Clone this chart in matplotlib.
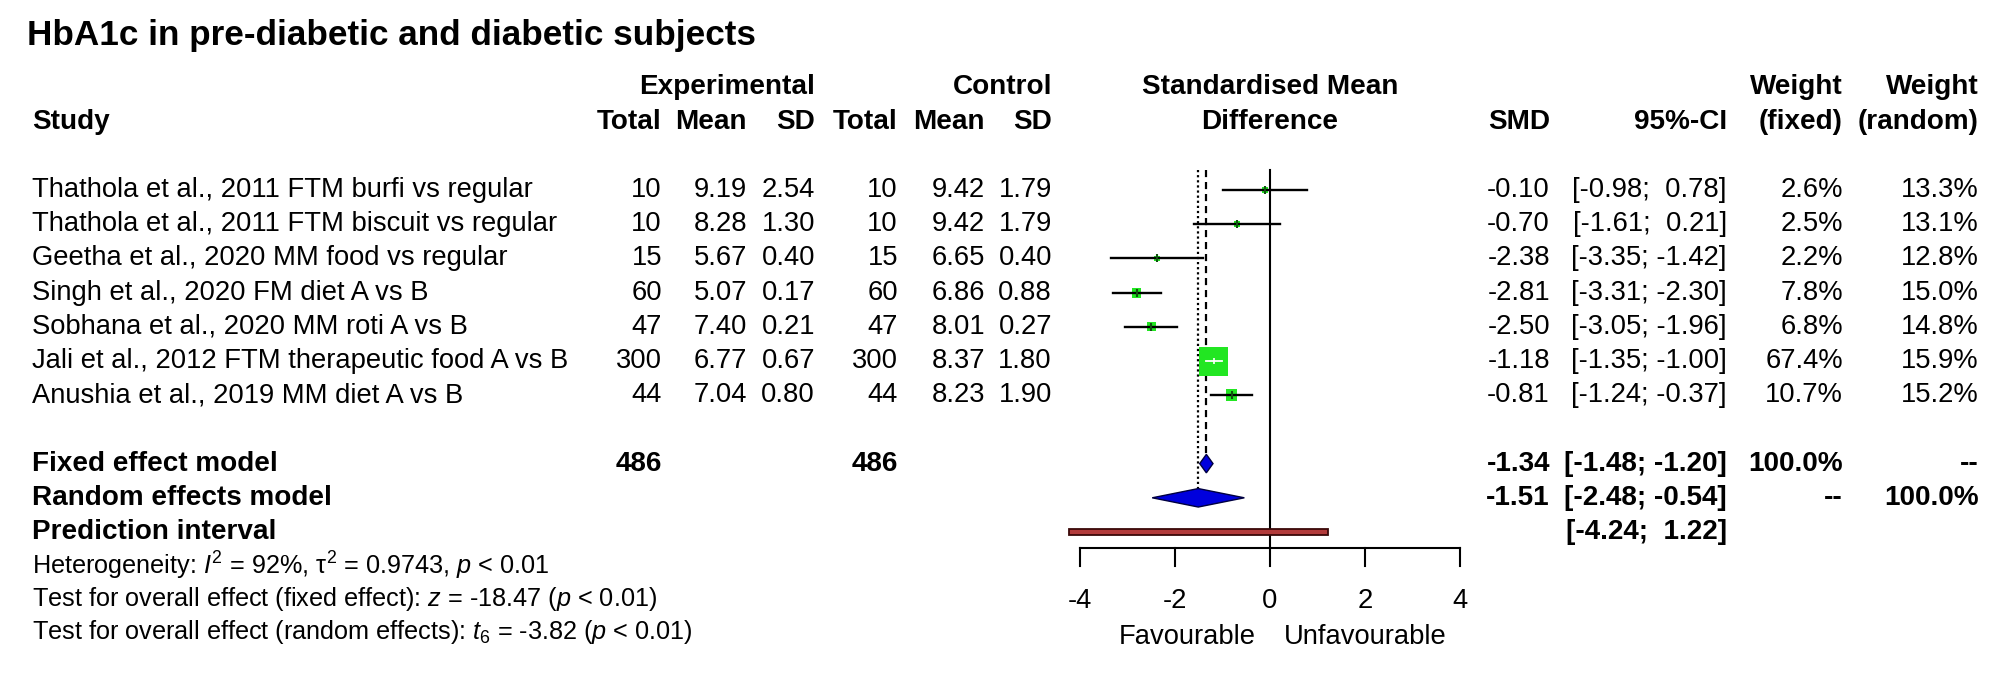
import matplotlib
matplotlib.use('Agg')
import matplotlib.pyplot as plt
from matplotlib.patches import Rectangle, Polygon
import numpy as np

plt.rcParams['font.family'] = ['Liberation Sans', 'DejaVu Sans']
plt.rcParams['mathtext.fontset'] = 'custom'
plt.rcParams['mathtext.rm'] = 'Liberation Sans'
plt.rcParams['mathtext.it'] = 'Liberation Sans:italic'
plt.rcParams['mathtext.bf'] = 'Liberation Sans:bold'

# ---------------- data ----------------
title = "HbA1c in pre-diabetic and diabetic subjects"
studies = [
    "Thathola et al., 2011 FTM burfi vs regular",
    "Thathola et al., 2011 FTM biscuit vs regular",
    "Geetha et al., 2020 MM food vs regular",
    "Singh et al., 2020 FM diet A vs B",
    "Sobhana et al., 2020 MM roti A vs B",
    "Jali et al., 2012 FTM therapeutic food A vs B",
    "Anushia et al., 2019 MM diet A vs B",
]
exp_total = [10, 10, 15, 60, 47, 300, 44]
exp_mean = [9.19, 8.28, 5.67, 5.07, 7.40, 6.77, 7.04]
exp_sd = [2.54, 1.30, 0.40, 0.17, 0.21, 0.67, 0.80]
ctl_total = [10, 10, 15, 60, 47, 300, 44]
ctl_mean = [9.42, 9.42, 6.65, 6.86, 8.01, 8.37, 8.23]
ctl_sd = [1.79, 1.79, 0.40, 0.88, 0.27, 1.80, 1.90]
smd = [-0.10, -0.70, -2.38, -2.81, -2.50, -1.18, -0.81]
ci_lo = [-0.98, -1.61, -3.35, -3.31, -3.05, -1.35, -1.24]
ci_hi = [0.78, 0.21, -1.42, -2.30, -1.96, -1.00, -0.37]
w_fixed = [2.6, 2.5, 2.2, 7.8, 6.8, 67.4, 10.7]
w_random = [13.3, 13.1, 12.8, 15.0, 14.8, 15.9, 15.2]
total_exp = 486
total_ctl = 486
fixed_est, fixed_lo, fixed_hi = -1.34, -1.48, -1.20
random_est, random_lo, random_hi = -1.51, -2.48, -0.54
pred_lo, pred_hi = -4.24, 1.22
xticks = [-4, -2, 0, 2, 4]
label_left = "Favourable"
label_right = "Unfavourable"
het_text = r"Heterogeneity: $I^2$ = 92%, τ$^2$ = 0.9743, $p$ < 0.01"
test_fixed_text = r"Test for overall effect (fixed effect): $z$ = -18.47 ($p$ < 0.01)"
test_random_text = r"Test for overall effect (random effects): $t_6$ = -3.82 ($p$ < 0.01)"

# ---------------- layout ----------------
W, H = 2008, 679
fig = plt.figure(figsize=(W / 100, H / 100), dpi=100)
row0_px, row_px = 190.0, 34.2
def prow(px):
    return (px - row0_px) / row_px
ytop, ybot = prow(0), prow(H)

ax_t = fig.add_axes([0, 0, 1, 1])
ax_t.set_xlim(0, W)
ax_t.set_ylim(ybot, ytop)
ax_t.axis('off')

x_m4, x_p4 = 1080, 1460
ax_f = fig.add_axes([x_m4 / W, 0, (x_p4 - x_m4) / W, 1])
ax_f.set_xlim(xticks[0], xticks[-1])
ax_f.set_ylim(ybot, ytop)
ax_f.axis('off')
ax_f.patch.set_alpha(0)
px_per_unit = (x_p4 - x_m4) / (xticks[-1] - xticks[0])

FS = 19.7
FSB = 20.1
FSH = 18.2
col_x = dict(et=662, em=747, es=815, ct=898, cm=985, cs=1052,
             smd=1550, ci=1727, wf=1843, wr=1979)
left_x = 32

def txt(x, y, s, ha='right', bold=False, size=None, **kw):
    if size is None:
        size = FSB if bold else FS
    ax_t.text(x, y, s, ha=ha, va='center', fontsize=size,
              fontweight='bold' if bold else 'normal', color='black', **kw)

# title
ax_t.text(27, prow(35), title, ha='left', va='center', fontsize=25.3, fontweight='bold')

# headers
h1, h2 = prow(87), prow(122)
txt(col_x['es'], h1, "Experimental", bold=True)
txt(col_x['cs'], h1, "Control", bold=True)
txt(1270, h1, "Standardised Mean", ha='center', bold=True)
txt(1270, h2, "Difference", ha='center', bold=True)
txt(col_x['wf'], h1, "Weight", bold=True)
txt(col_x['wr'], h1, "Weight", bold=True)
txt(left_x, h2, "Study", ha='left', bold=True)
for key, lab in [('et', 'Total'), ('em', 'Mean'), ('es', 'SD'),
                 ('ct', 'Total'), ('cm', 'Mean'), ('cs', 'SD'),
                 ('smd', 'SMD'), ('ci', '95%-CI'), ('wf', '(fixed)'), ('wr', '(random)')]:
    txt(col_x[key], h2, lab, bold=True)

def fmt_ci(lo, hi):
    a = f"{lo:.2f}"
    b = f"{hi:.2f}"
    if hi >= 0:
        b = " " + b
    return f"[{a}; {b}]"

# study rows
for i, name in enumerate(studies):
    y = i
    txt(left_x, y, name, ha='left')
    txt(col_x['et'], y, f"{exp_total[i]}")
    txt(col_x['em'], y, f"{exp_mean[i]:.2f}")
    txt(col_x['es'], y, f"{exp_sd[i]:.2f}")
    txt(col_x['ct'], y, f"{ctl_total[i]}")
    txt(col_x['cm'], y, f"{ctl_mean[i]:.2f}")
    txt(col_x['cs'], y, f"{ctl_sd[i]:.2f}")
    txt(col_x['smd'], y, f"{smd[i]:.2f}")
    txt(col_x['ci'], y, fmt_ci(ci_lo[i], ci_hi[i]))
    txt(col_x['wf'], y, f"{w_fixed[i]:.1f}%")
    txt(col_x['wr'], y, f"{w_random[i]:.1f}%")

# summary rows
yf, yr, yp = 8, 9, 10
txt(left_x, yf, "Fixed effect model", ha='left', bold=True)
txt(left_x, yr, "Random effects model", ha='left', bold=True)
txt(left_x, yp, "Prediction interval", ha='left', bold=True)
txt(col_x['et'], yf, f"{total_exp}", bold=True)
txt(col_x['ct'], yf, f"{total_ctl}", bold=True)
txt(col_x['smd'], yf, f"{fixed_est:.2f}", bold=True)
txt(col_x['ci'], yf, fmt_ci(fixed_lo, fixed_hi), bold=True)
txt(col_x['wf'], yf, "100.0%", bold=True)
txt(col_x['wr'], yf, "--", bold=True)
txt(col_x['smd'], yr, f"{random_est:.2f}", bold=True)
txt(col_x['ci'], yr, fmt_ci(random_lo, random_hi), bold=True)
txt(col_x['wf'], yr, "--", bold=True)
txt(col_x['wr'], yr, "100.0%", bold=True)
txt(col_x['ci'], yp, fmt_ci(pred_lo, pred_hi), bold=True)

# heterogeneity / tests
txt(left_x, prow(566), het_text, ha='left', size=FSH)
txt(left_x, prow(599), test_fixed_text, ha='left', size=FSH)
txt(left_x, prow(632), test_random_text, ha='left', size=FSH)

# ---------------- forest plot ----------------
line_top = prow(170)
axis_y = prow(548)
tick_bot = prow(566)
diam_h = 0.27

# reference lines
ax_f.plot([0, 0], [line_top, axis_y], color='black', lw=1.5, clip_on=False, zorder=1)
ax_f.plot([fixed_est, fixed_est], [line_top, yf - diam_h], color='black', lw=1.6,
          ls=(0, (3.2, 2.2)), clip_on=False, zorder=1)
ax_f.plot([random_est, random_est], [line_top, yr - diam_h], color='black', lw=1.6,
          ls=(0, (1, 1.3)), clip_on=False, zorder=1)

# squares and CIs
max_side_px = 29.0
wmax = max(w_fixed)
for i in range(len(studies)):
    side = max_side_px * np.sqrt(w_fixed[i] / wmax)
    wx = side / px_per_unit
    hy = side / row_px
    ax_f.add_patch(Rectangle((smd[i] - wx / 2, i - hy / 2), wx, hy,
                             facecolor='#22e622', edgecolor='none', zorder=2, clip_on=False))
    inside = (ci_lo[i] >= smd[i] - wx / 2) and (ci_hi[i] <= smd[i] + wx / 2)
    if inside:
        ax_f.plot([ci_lo[i], ci_hi[i]], [i, i], color='white', lw=1.3, zorder=3, clip_on=False)
        ax_f.plot([smd[i]], [i], marker='|', ms=5, color='white', mew=1.2, zorder=3, clip_on=False)
    else:
        ax_f.plot([ci_lo[i], ci_hi[i]], [i, i], color='black', lw=1.7, zorder=3, clip_on=False)
        ax_f.plot([smd[i]], [i], marker='|', ms=6, color='#105010', mew=1.5, zorder=3, clip_on=False)

# diamonds
for est, lo, hi, y in [(fixed_est, fixed_lo, fixed_hi, yf), (random_est, random_lo, random_hi, yr)]:
    ax_f.add_patch(Polygon([(lo, y), (est, y - diam_h), (hi, y), (est, y + diam_h)],
                           closed=True, facecolor='#0000dd', edgecolor='#000040',
                           lw=1.0, zorder=3, clip_on=False))

# prediction interval
ph = 0.1
ax_f.add_patch(Rectangle((pred_lo, yp - ph), pred_hi - pred_lo, 2 * ph,
                         facecolor='#b23a3a', edgecolor='#3a0808', lw=1.3,
                         zorder=3, clip_on=False))

# x axis
ax_f.plot([xticks[0], xticks[-1]], [axis_y, axis_y], color='black', lw=1.5, clip_on=False)
for t in xticks:
    ax_f.plot([t, t], [axis_y, tick_bot], color='black', lw=1.5, clip_on=False)
    ax_f.text(t, prow(601), f"{t}", ha='center', va='center', fontsize=FS)
ax_f.text(-0.3, prow(637), label_left, ha='right', va='center', fontsize=FS)
ax_f.text(0.3, prow(637), label_right, ha='left', va='center', fontsize=FS)

fig.savefig('out.png', dpi=100, facecolor='white')
